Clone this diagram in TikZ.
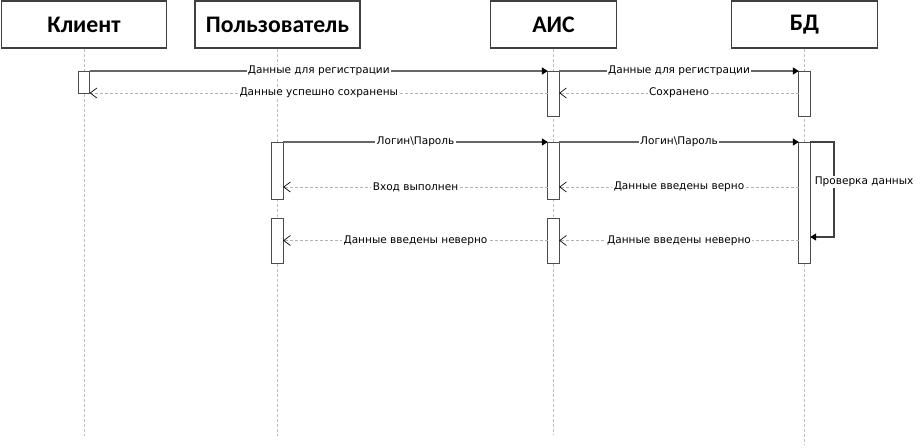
\documentclass[tikz,border=0pt]{standalone}
\usepackage{fontspec}
\setmainfont{DejaVu Sans}
\newfontfamily\headfont{Carlito}
\usepackage{tikz}
\usetikzlibrary{arrows.meta}

\tikzset{
head/.style={draw=black!75,line width=1pt,fill=white,minimum height=35.25pt,inner sep=0pt,font=\headfont\bfseries\fontsize{17.8}{20}\selectfont},
life/.style={draw=black!25,line width=0.75pt,dash pattern=on 2.25pt off 1.5pt},
act/.style={draw=black!70,line width=0.75pt,fill=white,minimum width=8.5pt,inner sep=0pt,outer sep=0pt},
msg/.style={draw=black!60,line width=1.1pt,-{Triangle[length=4.5pt,width=5.25pt,color=black]}},
ret/.style={draw=black!30,line width=0.6pt,dash pattern=on 2.25pt off 1.5pt,-{Straight Barb[length=5pt,width=7.5pt,color=black,line width=0.5pt]}},
lbl/.style={fill=white,inner sep=1pt,font=\fontsize{7.9}{9.5}\selectfont},
}

\begin{document}
\begin{tikzpicture}[x=0.75pt,y=-0.75pt]
\useasboundingbox (0,0) rectangle (923,447);
\node[head,minimum width=123.75pt] (kl) at (84,24.5) {Клиент};
\node[head,minimum width=123.75pt] (pol) at (277.5,24.5) {Пользователь};
\node[head,minimum width=94.5pt] (ais) at (553.5,24.5) {АИС};
\node[head,minimum width=109.5pt] (bd) at (804.5,24.5) {БД};
\foreach \h/\e in {kl/436,pol/436,ais/435,bd/444}{
\draw[life] (\h.south) -- (\h.south |- 0,\e);
}
\foreach \n/\h/\y/\l in {k1/kl/82/22,a1/ais/93.5/45,b1/bd/93.5/45,p2/pol/170.5/57,a2/ais/170.5/57,p3/pol/240.5/45,a3/ais/240.5/45,b2/bd/202.5/121}{
\node[act,minimum height=\l*0.75pt] (\n) at (\h.south |- 0,\y) {};
}
\coordinate (r1) at (0,93);
\coordinate (r2) at (0,187);
\coordinate (r3) at (0,237);
\coordinate (r4) at (0,182);

\draw[msg] (k1.north east) -- node[lbl] {Данные для регистрации} (a1.north west);
\draw[msg] (a1.north east) -- node[lbl] {Данные для регистрации} (b1.north west);
\draw[ret] (a1.west |- r1) -- node[lbl] {Данные успешно сохранены} (k1.south east);
\draw[ret] (b1.west |- r1) -- node[lbl] {Сохранено} (a1.east |- r1);

\draw[msg] (p2.north east) -- node[lbl] {Логин\textbackslash Пароль} (a2.north west);
\draw[msg] (a2.north east) -- node[lbl] {Логин\textbackslash Пароль} (b2.north west);
\draw[ret] (a2.west |- r2) -- node[lbl] {Вход выполнен} (p2.east |- r2);
\draw[ret] (b2.west |- r2) -- node[lbl] {Данные введены верно} (a2.east |- r2);
\draw[ret] (a3.west) -- node[lbl] {Данные введены неверно} (p3.east);
\draw[ret] (b2.west |- a3.west) -- node[lbl] {Данные введены неверно} (a3.east);

\draw[msg,draw=black!75] (b2.north east) -- ++(24,0) |- (b2.east |- r3);
\path (b2.east |- r4) ++(3,0) coordinate (chk);
\node[lbl,anchor=west] (chkl) at (chk) {Проверка данных};
\end{tikzpicture}
\end{document}
